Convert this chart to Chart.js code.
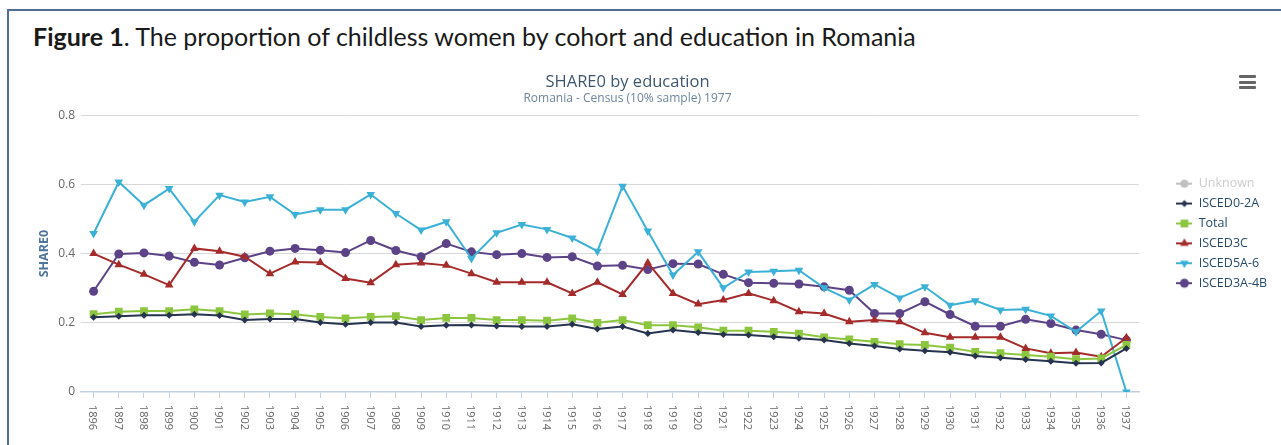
<!DOCTYPE html>
<html>
<head>
<meta charset="utf-8">
<title>SHARE0 by education</title>
<script src="https://cdn.jsdelivr.net/npm/chart.js@4.4.1/dist/chart.umd.min.js"></script>
<style>
  html, body { margin: 0; padding: 0; background: #fff; }
  body { width: 1281px; height: 445px; overflow: hidden; position: relative; }
  .frame {
    position: absolute; left: 7px; top: 9px; width: 1300px; height: 460px;
    border-left: 2px solid #4f6d95; border-top: 2px solid #4f6d95;
  }
  .fig-title {
    position: absolute; left: 33px; top: 24px; white-space: nowrap;
    font-family: Lato, "Open Sans", sans-serif; font-size: 25px; line-height: 25px; color: #1a1a1a;
  }
  .fig-title b { font-weight: bold; }
  .menu { position: absolute; left: 1239px; top: 75px; width: 17px; }
  .menu span { display: block; height: 3px; margin-bottom: 2.5px; background: #666; border-radius: 1px; }
  #wrap { position: absolute; left: 0; top: 0; width: 1281px; height: 445px; }
</style>
</head>
<body>
<div class="frame"></div>
<div class="fig-title"><b>Figure 1</b>. The proportion of childless women by cohort and education in Romania</div>
<div id="wrap"><canvas id="chart"></canvas></div>
<div class="menu"><span></span><span></span><span></span></div>

<script>
// cohorts (birth year)
const cohorts = ['1896', '1897', '1898', '1899', '1900', '1901', '1902', '1903', '1904', '1905',
  '1906', '1907', '1908', '1909', '1910', '1911', '1912', '1913', '1914', '1915',
  '1916', '1917', '1918', '1919', '1920', '1921', '1922', '1923', '1924', '1925',
  '1926', '1927', '1928', '1929', '1930', '1931', '1932', '1933', '1934', '1935',
  '1936', '1937'];

// share of childless women
const unknown = [];
const isced02 = [0.216, 0.219, 0.222, 0.222, 0.225, 0.221, 0.208, 0.211, 0.211, 0.201,
  0.196, 0.201, 0.201, 0.189, 0.193, 0.194, 0.191, 0.189, 0.189, 0.196,
  0.182, 0.189, 0.169, 0.179, 0.172, 0.166, 0.165, 0.160, 0.155, 0.150,
  0.140, 0.133, 0.124, 0.119, 0.115, 0.104, 0.099, 0.094, 0.089, 0.083,
  0.084, 0.126];
const total = [0.225, 0.232, 0.234, 0.234, 0.239, 0.234, 0.224, 0.227, 0.225, 0.217,
  0.213, 0.217, 0.219, 0.208, 0.214, 0.214, 0.208, 0.208, 0.206, 0.213,
  0.200, 0.208, 0.193, 0.193, 0.187, 0.177, 0.177, 0.174, 0.169, 0.158,
  0.152, 0.145, 0.138, 0.136, 0.128, 0.116, 0.112, 0.107, 0.102, 0.095,
  0.097, 0.136];
const isced3c = [0.400, 0.368, 0.340, 0.309, 0.415, 0.407, 0.391, 0.342, 0.376, 0.374,
  0.328, 0.316, 0.368, 0.373, 0.366, 0.342, 0.317, 0.317, 0.317, 0.285,
  0.317, 0.282, 0.373, 0.285, 0.254, 0.266, 0.285, 0.264, 0.232, 0.227,
  0.203, 0.208, 0.203, 0.171, 0.158, 0.158, 0.158, 0.126, 0.112, 0.114,
  0.102, 0.157];
const isced5a6 = [0.458, 0.607, 0.540, 0.588, 0.492, 0.569, 0.549, 0.564, 0.513, 0.527,
  0.527, 0.571, 0.516, 0.468, 0.492, 0.386, 0.460, 0.484, 0.470, 0.445,
  0.407, 0.595, 0.465, 0.338, 0.405, 0.301, 0.347, 0.349, 0.352, 0.301,
  0.266, 0.311, 0.272, 0.304, 0.251, 0.264, 0.237, 0.239, 0.220, 0.174,
  0.234, 0.000];
const isced3a4b = [0.291, 0.399, 0.402, 0.393, 0.375, 0.367, 0.388, 0.407, 0.415, 0.410,
  0.403, 0.438, 0.409, 0.391, 0.429, 0.405, 0.397, 0.400, 0.389, 0.391,
  0.364, 0.366, 0.354, 0.371, 0.370, 0.340, 0.316, 0.314, 0.312, 0.304,
  0.294, 0.227, 0.227, 0.261, 0.224, 0.190, 0.190, 0.210, 0.198, 0.179,
  0.167, 0.150];

const yTicks = [0, 0.2, 0.4, 0.6, 0.8];

const TITLE = 'SHARE0 by education';
const SUBTITLE = 'Romania - Census (10% sample) 1977';
const FONT = '"Open Sans", "Noto Sans", sans-serif';

function series(label, data, color, style, radius, rotation) {
  return {
    label: label,
    data: data,
    borderColor: color,
    backgroundColor: color,
    borderWidth: 2,
    pointStyle: style,
    pointRadius: radius,
    pointRotation: rotation || 0,
    pointBackgroundColor: color,
    pointBorderColor: color,
    pointBorderWidth: 0,
    tension: 0
  };
}

// legend symbol: short line with the marker on it
function legendSymbol(ds) {
  const c = document.createElement('canvas');
  c.width = 16;
  c.height = 12;
  const g = c.getContext('2d');
  g.strokeStyle = ds.borderColor;
  g.lineWidth = 2;
  g.beginPath();
  g.moveTo(0, 6);
  g.lineTo(16, 6);
  g.stroke();
  g.fillStyle = ds.borderColor;
  Chart.helpers.drawPoint(g, {
    pointStyle: ds.pointStyle,
    radius: ds.pointRadius,
    rotation: ds.pointRotation,
    borderWidth: 0
  }, 8, 6);
  return c;
}

// rotated cohort labels (reading top to bottom)
const cohortLabels = {
  id: 'cohortLabels',
  afterDraw(chart) {
    const x = chart.scales.x;
    const ctx = chart.ctx;
    ctx.save();
    ctx.font = '11px ' + FONT;
    ctx.fillStyle = '#666666';
    ctx.textAlign = 'left';
    ctx.textBaseline = 'middle';
    x.ticks.forEach(function (t, i) {
      ctx.save();
      ctx.translate(x.getPixelForTick(i) - 1, x.top + 13);
      ctx.rotate(Math.PI / 2);
      ctx.fillText(x.getLabelForValue(t.value), 0, 0);
      ctx.restore();
    });
    ctx.restore();
  }
};

// legend sits a bit away from the plot, titles centred like the original
const layoutTweaks = {
  id: 'layoutTweaks',
  beforeLayout(chart) {
    const lg = chart.legend;
    if (lg && !lg._fixedWidth) {
      const fit = lg.fit;
      lg.fit = function () {
        fit.call(this);
        this.width = 142;
      };
      lg._fixedWidth = true;
    }
  },
  afterLayout(chart) {
    const lg = chart.legend;
    lg.left = 1169;
    lg.right = lg.left + lg.width;
    lg.top = 170;
    lg.bottom = lg.top + lg.height;
    chart.boxes.forEach(function (b) {
      if (b.options && (b.options.text === TITLE || b.options.text === SUBTITLE)) {
        b.left -= 28;
        b.right -= 28;
      }
    });
  }
};

Chart.defaults.font.family = FONT;

new Chart(document.getElementById('chart'), {
  type: 'line',
  data: {
    labels: cohorts,
    datasets: [
      series('Unknown', unknown, '#c0c0c0', 'circle', 4),
      series('ISCED0-2A', isced02, '#27344f', 'rectRot', 3.5),
      series('Total', total, '#8cc63f', 'rect', 5.5),
      series('ISCED3C', isced3c, '#a52a2a', 'triangle', 5),
      series('ISCED5A-6', isced5a6, '#3bb1d8', 'triangle', 5, 180),
      series('ISCED3A-4B', isced3a4b, '#5c4387', 'circle', 4.5)
    ]
  },
  options: {
    responsive: true,
    maintainAspectRatio: false,
    animation: false,
    events: [],
    layout: { padding: { top: 58, left: 30, right: 0, bottom: 0 } },
    plugins: {
      title: {
        display: true,
        text: TITLE,
        color: '#3e576f',
        font: { size: 16.5, weight: 'normal' },
        padding: { top: 14, bottom: 0 }
      },
      subtitle: {
        display: true,
        text: SUBTITLE,
        color: '#6d869f',
        font: { size: 12 },
        padding: { top: 0, bottom: 9 }
      },
      legend: {
        position: 'right',
        align: 'start',
        labels: {
          usePointStyle: true,
          pointStyleWidth: 16,
          padding: 7.4,
          font: { size: 12.5 },
          generateLabels(chart) {
            return chart.data.datasets.map(function (ds, i) {
              return {
                text: ds.label,
                datasetIndex: i,
                hidden: false,
                fontColor: ds.label === 'Unknown' ? '#cccccc' : '#274b6d',
                pointStyle: legendSymbol(ds),
                fillStyle: ds.borderColor,
                strokeStyle: ds.borderColor,
                lineWidth: 0
              };
            });
          }
        }
      },
      tooltip: { enabled: false }
    },
    scales: {
      x: {
        offset: true,
        grid: { display: true, drawOnChartArea: false, drawTicks: true, tickLength: 6, color: '#c0d0e0', offset: false },
        border: { display: true, color: '#c0d0e0', width: 1.5 },
        ticks: { display: false },
        afterFit(scale) { scale.height = 53; }
      },
      y: {
        min: 0,
        max: 0.8,
        afterBuildTicks(scale) {
          scale.ticks = yTicks.map(function (v) { return { value: v }; });
        },
        grid: {
          drawTicks: false,
          color: function (c) { return c.tick && c.tick.value === 0 ? 'rgba(0,0,0,0)' : '#d8d8d8'; }
        },
        border: { display: false },
        ticks: { color: '#666666', font: { size: 12 }, padding: 6 },
        title: {
          display: true,
          text: 'SHARE0',
          color: '#4d759e',
          font: { size: 12.5, weight: 'bold' },
          padding: { top: 7, bottom: 0 }
        },
        afterFit(scale) { scale.width = 51; }
      }
    }
  },
  plugins: [cohortLabels, layoutTweaks]
});
</script>
</body>
</html>
